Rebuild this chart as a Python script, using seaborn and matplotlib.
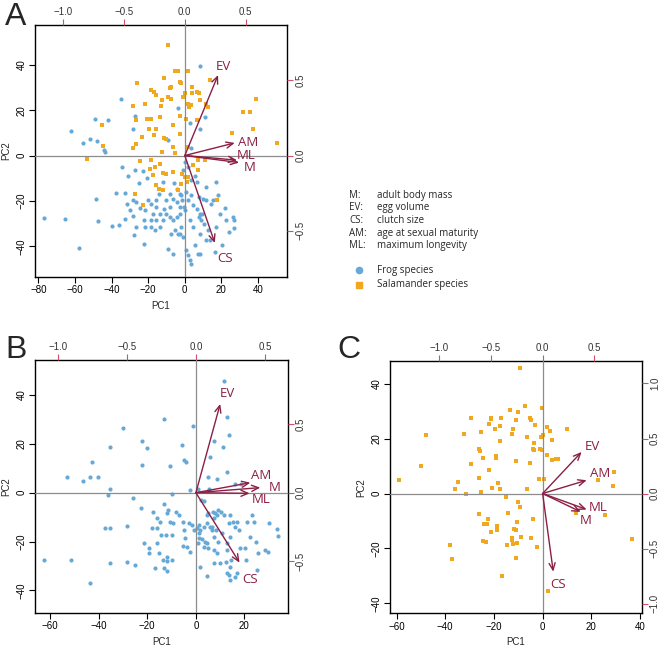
import matplotlib
matplotlib.use("Agg")
import matplotlib.pyplot as plt
import seaborn as sns
import pandas as pd
from matplotlib.lines import Line2D

# ---- panel A : all species ----
a_frog_x = [8.2, -35.1, -62.2, -55.5, -51.8, -48.2, -49.3, -41.8, -44.2, -43.6, -27.3, -28.2, -3.6, 2.7, 8.2,
            11.3, -9.1, 3.6, 0.0, -34.5, -30.9, -27.3, -22.7, -20.9, -24.9, -32.7, -37.8, -48.5, -76.7, -65.3,
            -57.8, -47.6, -40.0, -36.0, -32.7, -28.2, -30.0, -27.6, -22.4, -26.4, -24.5, -21.8, -20.0, -18.2, -15.5,
            -22.4, -21.5, -18.2, -16.4, -13.6, -15.5, -11.5, -10.4, -8.2, -6.4, -4.5, -2.7, -9.1, -6.7, -2.7,
            -0.9, 0.0, 1.8, 3.6, 4.5, 6.4, 8.2, 9.1, 10.4, 12.7, 13.6, 7.8, 2.7, 4.5, 0.9,
            1.8, 3.6, 2.7, 7.3, 11.8, 16.9, 18.2, 14.2, 19.1, 21.8, 22.7, 26.4, 27.1, 26.9, 24.2,
            20.4, 17.3, 16.4, 8.2, 5.5, -6.0, -8.2, -6.4, -4.5, -2.7, -1.3, -0.4, 0.9, 3.6, 6.4,
            7.8, 10.0, 11.8, -11.8, -14.0, -10.0, -1.8, -3.6, -5.5, -7.3, -11.8, -17.3, -8.2, 11.8, 15.5,
            9.6, 8.2, -0.9, 1.8, 5.5, -2.7, -4.5, -1.8, -15.5, -13.6, -18.2, -28.2, -26.4, -31.8]
a_frog_y = [39.6, 24.7, 10.7, 5.7, 7.1, 6.5, 16.0, 15.6, 2.6, 1.6, 17.4, 11.5, 21.0, 14.4, 11.9,
            17.1, 6.8, 3.4, -2.8, -5.0, -9.0, -6.5, -6.8, -10.1, -12.1, -16.5, -16.3, -19.1, -27.6, -28.1,
            -40.6, -29.0, -31.2, -30.7, -27.8, -26.8, -24.1, -35.1, -38.8, -20.4, -22.9, -24.1, -19.7, -21.2, -19.4,
            -28.5, -31.5, -31.5, -32.9, -31.5, -28.5, -23.4, -25.6, -27.1, -28.5, -27.1, -25.6, -41.0, -43.2, -34.4,
            -35.9, -24.1, -19.7, -17.5, -21.9, -23.4, -25.6, -28.5, -30.0, -32.9, -37.4, -27.1, -28.5, -31.5, -41.8,
            -44.0, -47.6, -46.2, -43.5, -37.4, -11.6, -17.5, -21.5, -25.6, -22.9, -28.5, -27.1, -28.2, -31.9, -33.7,
            -39.4, -31.5, -42.5, -43.2, -39.6, -12.1, -16.8, -19.0, -14.6, -16.8, -19.7, -22.6, -16.0, -10.9, -11.6,
            -18.2, -19.0, -19.7, -11.6, -16.8, -19.7, -31.5, -34.4, -32.9, -34.4, -28.5, -25.6, -22.6, -13.8, -19.7,
            -25.6, -34.4, -6.5, -5.0, -9.1, -22.6, -20.4, -17.5, -22.6, -25.6, -28.5, -19.7, -31.5, -21.2]
a_sal_x = [-9.1, -3.6, 1.5, -5.5, -11.1, 13.6, -2.5, -1.8, -26.2, 4.0, 6.7, 7.8, -7.8, -8.2, -18.2,
           -16.9, -15.5, -9.1, -7.8, -0.9, 0.2, 4.2, 11.8, 12.7, 8.2, 1.8, 3.3, 2.4, -12.7, -21.5,
           -28.2, -12.9, -2.7, -13.6, -18.2, -20.9, -26.4, -15.5, -19.5, -11.3, -10.0, -6.4, -5.5, 1.8, 0.9,
           6.4, -23.6, -26.4, -28.2, -16.9, -12.7, -18.2, -16.4, -13.6, -11.8, -10.0, -6.4, -1.3, 0.0, 1.8,
           1.3, -1.8, -19.1, -24.2, -17.3, -15.5, -14.0, -11.8, -3.6, -27.3, -22.7, 17.6, 7.3, 10.9, 7.3,
           25.8, 31.8, 35.8, 38.7, 37.3, 50.4, -53.3, -44.7, -45.1, -6.4, -2.7, 4.5]
a_sal_y = [48.7, 37.4, 37.4, 37.2, 34.0, 33.2, 32.5, 31.8, 31.8, 30.0, 28.1, 27.6, 30.3, 29.6, 28.8,
           28.1, 26.6, 25.9, 25.1, 25.9, 27.6, 27.4, 22.9, 21.5, 24.4, 22.6, 22.1, 21.2, 24.4, 22.6,
           21.8, 21.8, 17.4, 16.8, 15.9, 15.9, 15.6, 11.9, 11.9, 7.9, 7.1, 3.8, 1.2, 3.8, 16.3,
           15.6, 8.2, 5.0, 3.5, 9.0, 1.6, -1.8, -5.0, -3.8, -7.6, -8.2, -7.2, -7.9, -9.4, -9.4,
           -11.6, -12.6, -5.7, -2.5, -8.7, -13.1, -14.6, -15.3, -15.0, -16.8, -21.9, -19.4, -2.1, -2.1, -6.2,
           10.1, 19.4, 19.4, 25.0, 11.8, 5.7, -1.5, 4.3, 13.4, 13.4, 9.7, -4.3]

# ---- panel B : frogs ----
b_frog_x = [11.4, 12.8, 13.5, 11.1, 7.3, 5.9, -1.0, -13.3, -30.1, -22.3, -20.2, -35.3, -42.7, -22.0, -10.6,
            -4.7, -4.1, -5.8, -53.0, -46.3, -43.5, -40.4, -35.3, -36.0, -26.0, -9.8, -2.3, 5.2, 8.9, 12.8,
            5.6, 1.1, 16.2, 18.7, -37.4, -28.4, -22.5, -17.7, -13.3, -12.0, -11.3, -8.2, -7.1, -9.2, -10.6,
            -16.1, -14.7, -18.1, -16.1, -21.3, -19.1, -16.1, -14.4, -12.4, -9.9, -11.7, -11.7, -9.9, -16.8, -13.3,
            -11.7, -19.2, -15.2, -13.6, -25.0, -28.4, -35.3, -35.3, -51.5, -62.4, -43.5, -5.4, -4.7, -3.7, -5.4,
            -2.2, -4.4, -3.0, -1.6, -0.7, 0.4, 1.8, 1.5, 0.7, 1.5, 2.5, 3.6, 4.5, 5.2, 3.2,
            4.5, 5.9, 6.6, 8.4, 7.3, 9.3, 10.7, 7.3, 8.7, 10.0, 7.3, 1.8, 4.5, 6.6, 3.2,
            1.5, 4.5, 5.2, 6.9, 8.0, 9.3, 10.3, 8.7, 11.7, 7.3, 3.2, 2.2, 13.9, 13.6, 15.5,
            16.2, 16.9, 17.6, 14.1, 12.8, 12.8, 12.5, 14.1, 16.2, 12.8, 13.6, 14.1, 16.9, 18.3, 20.3,
            21.0, 22.4, 23.1, 24.0, 24.9, 25.4, 25.1, 28.6, 29.8, 30.0, 33.4, 33.8, 20.7, 14.6]
b_frog_y = [45.7, 30.8, 23.6, 18.8, 21.3, 14.7, 27.4, 30.0, 26.6, 21.1, 18.1, 18.6, 12.7, 11.3, 10.9,
            13.4, 12.7, 19.5, 6.5, 4.9, 6.5, 6.5, 1.5, -1.0, -2.0, -0.7, 1.1, 6.5, 5.6, 8.3,
            1.4, 1.4, 3.5, 3.4, -14.3, -13.6, -6.4, -7.8, -4.8, -8.5, -7.1, -7.8, -9.1, -12.3, -11.9,
            -10.2, -11.9, -14.6, -14.6, -20.7, -22.8, -20.7, -17.3, -17.5, -17.3, -26.2, -27.8, -27.6, -31.0, -30.7,
            -31.9, -24.6, -24.8, -27.6, -29.6, -28.5, -28.9, -14.3, -27.6, -27.6, -37.1, -12.1, -15.3, -22.1, -21.8,
            -24.3, -18.7, -12.3, -13.2, -15.3, -14.6, -15.3, -16.6, -20.7, -18.7, -19.1, -20.1, -20.7, -22.8, -22.1,
            -12.6, -13.9, -15.3, -15.3, -18.0, -20.1, -16.6, -23.5, -24.8, -28.9, -28.9, -30.3, -34.0, -13.9, -13.9,
            -13.2, -9.1, -8.2, -7.8, -8.2, -7.1, -7.8, -9.1, -9.1, -10.2, -3.3, -3.0, -9.1, -12.6, -11.9,
            -13.9, -11.9, -15.3, -18.0, -20.7, -23.5, -28.2, -30.6, -34.4, -33.0, -33.6, -35.7, -33.0, -22.8, -22.8,
            -11.9, -18.0, -9.1, -11.9, -20.1, -24.6, -31.7, -23.5, -24.1, -12.6, -15.0, -17.6, -27.6, -27.6]

# ---- panel C : salamanders ----
c_sal_x = [-9.3, -7.3, -13.4, -10.0, -0.4, -17.1, -21.2, -21.0, -29.3, -22.0, -17.3, -5.2, -4.9, -11.1, -3.2,
           1.9, 3.0, 9.9, -19.6, -12.1, -25.5, -32.2, -47.9, -12.7, -0.8, 0.3, -6.3, -17.3, 3.7, -3.4,
           -4.1, -3.6, -1.1, -0.1, -26.0, -25.9, -19.3, -19.3, -24.4, 1.9, 3.7, 5.5, 6.3, -11.0, -5.2,
           -29.6, -50.1, -21.9, -26.0, -1.5, 0.5, -34.7, -18.5, -59.0, -35.8, -31.5, -25.1, -20.8, -17.3, -6.6,
           22.9, 29.0, 29.3, -15.1, -9.9, -9.2, -26.2, -22.6, -24.0, -23.0, -14.4, -4.1, -10.7, -18.6, -18.6,
           -21.2, -11.8, -11.1, -12.7, -9.0, -12.4, -12.1, -10.7, -4.9, -14.8, -24.4, -23.3, -38.1, -37.1, -11.0,
           -2.2, -16.8, 2.3, 13.7, 25.6, 36.7]
c_sal_y = [45.8, 31.8, 30.5, 29.7, 31.3, 27.6, 27.6, 27.3, 27.5, 25.5, 24.5, 27.6, 26.9, 26.9, 25.1,
           24.2, 22.8, 23.4, 23.4, 23.4, 22.4, 21.8, 21.5, 21.8, 20.6, 21.2, 20.6, 19.0, 19.4, 18.4,
           16.4, 15.8, 16.4, 15.8, 16.4, 15.4, 13.6, 13.1, 13.0, 13.9, 12.1, 12.7, 12.7, 11.8, 11.2,
           10.9, 9.9, 8.5, 5.8, 5.2, 5.2, 4.2, 3.9, 5.0, 1.5, 0.0, 0.6, 1.9, 1.6, 1.6,
           4.8, 2.8, 7.9, -1.2, -3.0, -4.8, -7.6, -9.1, -10.9, -10.9, -7.0, -9.1, -10.5, -11.9, -13.1,
           -13.9, -13.0, -13.1, -16.0, -15.8, -17.0, -18.2, -17.9, -16.0, -18.8, -17.3, -17.8, -18.8, -23.8, -23.4,
           -19.6, -30.1, -35.4, -6.9, -7.9, -16.5]

# ---- loadings (arrow tips, in loading units) ----
traits = ["EV", "AM", "ML", "M", "CS"]
a_load_x = [0.274, 0.411, 0.430, 0.447, 0.247]
a_load_y = [0.536, 0.084, -0.031, -0.047, -0.582]
b_load_x = [0.176, 0.394, 0.389, 0.466, 0.316]
b_load_y = [0.649, 0.073, -0.005, 0.037, -0.512]
c_load_x = [0.377, 0.426, 0.426, 0.368, 0.103]
c_load_y = [0.378, 0.121, -0.145, -0.166, -0.710]
# label anchor positions
a_lab_x = [0.321, 0.521, 0.507, 0.534, 0.329]
a_lab_y = [0.591, 0.084, 0.002, -0.080, -0.687]
b_lab_x = [0.225, 0.473, 0.471, 0.568, 0.389]
b_lab_y = [0.727, 0.129, -0.049, 0.039, -0.634]
c_lab_x = [0.481, 0.555, 0.539, 0.419, 0.152]
c_lab_y = [0.429, 0.181, -0.127, -0.242, -0.825]

legend_keys = ["M:", "EV:", "CS:", "AM:", "ML:"]
legend_desc = ["adult body mass", "egg volume", "clutch size", "age at sexual maturity", "maximum longevity"]

FROG = "#67A9D6"
SAL = "#F0A81E"
ARROW = "#8A1F45"
TICKRED = "#D0506E"

sns.set_style("white")
plt.rcParams["font.family"] = ["Liberation Sans", "DejaVu Sans"]
plt.rcParams["axes.unicode_minus"] = True

fig = plt.figure(figsize=(6.64, 6.5), dpi=100)


def panel(rect, frog, sal, lim, llim, lx, ly, tx, ty, xticks, yticks, rticks, letter):
    ax = fig.add_axes(rect)
    if frog is not None:
        df = pd.DataFrame({"PC1": frog[0], "PC2": frog[1]})
        sns.scatterplot(data=df, x="PC1", y="PC2", ax=ax, color=FROG, marker="o", s=9,
                        linewidth=0, legend=False, zorder=3)
    if sal is not None:
        df = pd.DataFrame({"PC1": sal[0], "PC2": sal[1]})
        sns.scatterplot(data=df, x="PC1", y="PC2", ax=ax, color=SAL, marker="s", s=8,
                        linewidth=0, legend=False, zorder=3)
    ax.set_xlim(lim[0], lim[1])
    ax.set_ylim(lim[2], lim[3])
    ax.set_xticks(xticks)
    ax.set_yticks(yticks)
    ax.set_xticklabels([str(v).replace("-", "\u2212") for v in xticks])
    ax.set_yticklabels([str(v).replace("-", "\u2212") for v in yticks], rotation=90, va="center")
    ax.tick_params(direction="out", length=4, width=0.8, labelsize=7, pad=2,
                   bottom=True, left=True, colors="black")
    ax.set_xlabel("PC1", fontsize=7, labelpad=4)
    ax.set_ylabel("PC2", fontsize=7, labelpad=4)
    for s in ax.spines.values():
        s.set_color("black")
        s.set_linewidth(1.0)

    # loading overlay
    ax2 = fig.add_axes(rect, frameon=False)
    ax2.set_xlim(llim[0], llim[1])
    ax2.set_ylim(llim[2], llim[3])
    ax2.patch.set_alpha(0)
    ax2.axhline(0, color="#8c8c8c", lw=0.9, zorder=1)
    ax2.axvline(0, color="#8c8c8c", lw=0.9, zorder=1)
    ax2.xaxis.tick_top()
    ax2.yaxis.tick_right()
    tl = [-1.0, -0.5, 0.0, 0.5]
    ax2.set_xticks(tl)
    ax2.set_xticklabels([f"{v:.1f}".replace("-", "\u2212") for v in tl])
    ax2.set_yticks(rticks)
    ax2.set_yticklabels([f"{v:.1f}".replace("-", "\u2212") for v in rticks], rotation=90, va="center")
    ax2.tick_params(direction="out", length=4, width=0.8, labelsize=7, pad=2, color=TICKRED,
                    labelcolor="#333333", top=True, right=True, bottom=False, left=False)
    for i, t in enumerate(traits):
        ax2.annotate("", xy=(lx[i], ly[i]), xytext=(0, 0),
                     arrowprops=dict(arrowstyle="->,head_length=0.5,head_width=0.22",
                                     color=ARROW, lw=1.0, shrinkA=0, shrinkB=0), zorder=5)
        ax2.text(tx[i], ty[i], t, color=ARROW, fontsize=9.5, ha="center", va="center",
                 family=["Open Sans", "DejaVu Sans"], zorder=6)
    fig.text(letter[1], letter[2], letter[0], fontsize=23, ha="left", va="top",
             family=["Liberation Sans", "DejaVu Sans"])
    return ax


panel([0.0527, 0.5738, 0.3795, 0.3877], (a_frog_x, a_frog_y), (a_sal_x, a_sal_y),
      (-81.8, 55.8, -53.5, 57.5), (-1.233, 0.841, -0.809, 0.869),
      a_load_x, a_load_y, a_lab_x, a_lab_y,
      [-80, -60, -40, -20, 0, 20, 40], [-40, -20, 0, 20, 40], [-0.5, 0.0, 0.5], ("A", 0.008, 0.997))

panel([0.0527, 0.0574, 0.3805, 0.3888], (b_frog_x, b_frog_y), None,
      (-66.2, 37.8, -49.1, 54.3), (-1.164, 0.664, -0.878, 0.971),
      b_load_x, b_load_y, b_lab_x, b_lab_y,
      [-60, -40, -20, 0, 20], [-40, -20, 0, 20, 40], [-0.5, 0.0, 0.5], ("B", 0.008, 0.485))

panel([0.5873, 0.0565, 0.3790, 0.3877], None, (c_sal_x, c_sal_y),
      (-62.7, 40.7, -43.6, 48.2), (-1.477, 0.958, -1.088, 1.202),
      c_load_x, c_load_y, c_lab_x, c_lab_y,
      [-60, -40, -20, 0, 20, 40], [-40, -20, 0, 20, 40], [-1.0, -0.5, 0.0, 0.5, 1.0], ("C", 0.508, 0.485))

# key for trait abbreviations and species
leg_font = ["Open Sans", "DejaVu Sans"]
ys = [195, 207.7, 220.7, 233.3, 246]
for k, d, y in zip(legend_keys, legend_desc, ys):
    fig.text(349 / 664, 1 - y / 650, k, fontsize=7, va="center", ha="left", family=leg_font)
    fig.text(377 / 664, 1 - y / 650, d, fontsize=7, va="center", ha="left", family=leg_font)
fig.add_artist(Line2D([359 / 664], [1 - 270 / 650], marker="o", markersize=4.5, color=FROG,
                      linestyle="none", transform=fig.transFigure))
fig.add_artist(Line2D([359 / 664], [1 - 285 / 650], marker="s", markersize=4, color=SAL,
                      linestyle="none", transform=fig.transFigure))
fig.text(377 / 664, 1 - 270 / 650, "Frog species", fontsize=7, va="center", ha="left", family=leg_font)
fig.text(377 / 664, 1 - 285 / 650, "Salamander species", fontsize=7, va="center", ha="left", family=leg_font)

fig.savefig("out.png", dpi=100)
